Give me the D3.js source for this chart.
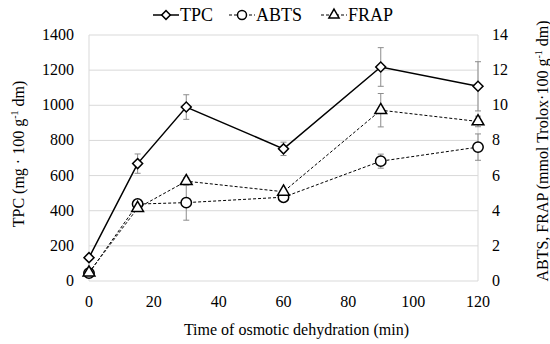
<!DOCTYPE html>
<html>
<head>
<meta charset="utf-8">
<script src="https://cdn.jsdelivr.net/npm/d3@7"></script>
<style>
  body { margin: 0; background: #fff; }
  svg text { font-family: "Liberation Serif", "Times New Roman", serif; fill: #000; }
</style>
</head>
<body>
<svg id="chart" width="550" height="344">
  <text id="xtitle" x="296" y="335" text-anchor="middle" font-family="Liberation Serif" font-size="16">Time of osmotic dehydration (min)</text>
</svg>
<script>
// data
const times = [0, 15, 30, 60, 90, 120];
const tpc = [133, 668, 990, 752, 1218, 1108];
const tpcErr = [10, 55, 70, 38, 110, 140];
const abts = [0.45, 4.38, 4.46, 4.77, 6.82, 7.62];
const abtsErr = [0.05, 0.1, 1.0, 0.15, 0.4, 0.75];
const frap = [0.48, 4.15, 5.68, 5.08, 9.72, 9.08];
const frapErr = [0.05, 0.1, 0.2, 0.1, 0.95, 0.3];
const xTicks = [0, 20, 40, 60, 80, 100, 120];
const leftTicks = [0, 200, 400, 600, 800, 1000, 1200, 1400];
const rightTicks = [0, 2, 4, 6, 8, 10, 12, 14];

const width = 550, height = 344;
const margin = { top: 35, right: 72, bottom: 63, left: 89 };
const serif = "Liberation Serif";

const svg = d3.select("#chart");

const x = d3.scaleLinear().domain([0, 120]).range([margin.left, width - margin.right]);
const yL = d3.scaleLinear().domain([0, 1400]).range([height - margin.bottom, margin.top]);
const yR = d3.scaleLinear().domain([0, 14]).range([height - margin.bottom, margin.top]);

// gridlines
svg.append("g")
    .selectAll("line")
    .data(leftTicks)
    .join("line")
    .attr("x1", x(0)).attr("x2", x(120))
    .attr("y1", d => yL(d)).attr("y2", d => yL(d))
    .attr("stroke", "#d9d9d9").attr("stroke-width", 1);

// vertical frame lines at both ends
[0, 120].forEach(v => {
    svg.append("line")
        .attr("x1", x(v)).attr("x2", x(v))
        .attr("y1", yL(0)).attr("y2", yL(1400))
        .attr("stroke", "#d9d9d9").attr("stroke-width", 1);
});

// tick labels
svg.append("g").selectAll("text").data(leftTicks).join("text")
    .attr("font-family", serif)
    .attr("x", x(0) - 15).attr("y", d => yL(d) + 5)
    .attr("text-anchor", "end").attr("font-size", 16)
    .text(d => d);

svg.append("g").selectAll("text").data(rightTicks).join("text")
    .attr("font-family", serif)
    .attr("x", x(120) + 14).attr("y", d => yR(d) + 5)
    .attr("text-anchor", "start").attr("font-size", 16)
    .text(d => d);

svg.append("g").selectAll("text").data(xTicks).join("text")
    .attr("font-family", serif)
    .attr("x", d => x(d)).attr("y", yL(0) + 26)
    .attr("text-anchor", "middle").attr("font-size", 16)
    .text(d => d);

// x title sits in the markup; keep it centred on the plot
svg.select("#xtitle").attr("x", (x(0) + x(120)) / 2 + 13);

const lt = svg.append("text")
    .attr("font-family", serif)
    .attr("transform", "translate(24,154) rotate(-90)")
    .attr("text-anchor", "middle").attr("font-size", 16);
lt.append("tspan").text("TPC (mg \u00b7 100 g");
lt.append("tspan").attr("dy", -6).attr("font-size", 10).text("-1");
lt.append("tspan").attr("dy", 6).text(" dm)");

const rt = svg.append("text")
    .attr("font-family", serif)
    .attr("transform", "translate(548,151) rotate(-90)")
    .attr("text-anchor", "middle").attr("font-size", 16);
rt.append("tspan").text("ABTS, FRAP (mmol Trolox\u00b7100 g");
rt.append("tspan").attr("dy", -6).attr("font-size", 10).text("-1");
rt.append("tspan").attr("dy", 6).text(" dm)");

// series
const series = [
    { name: "TPC", vals: tpc, err: tpcErr, y: yL, dash: null, lw: 1.5, shape: d3.symbolSquare, rot: 45, size: 50 },
    { name: "ABTS", vals: abts, err: abtsErr, y: yR, dash: "3,2", lw: 1, shape: d3.symbolCircle, rot: 0, size: 85 },
    { name: "FRAP", vals: frap, err: frapErr, y: yR, dash: "3,2", lw: 1, shape: d3.symbolTriangle, rot: 0, size: 60 }
];

// error bars
series.forEach(s => {
    const g = svg.append("g").attr("stroke", "#8c8c8c").attr("stroke-width", 1);
    times.forEach((t, i) => {
        const cx = x(t), y1 = s.y(s.vals[i] - s.err[i]), y2 = s.y(s.vals[i] + s.err[i]);
        g.append("line").attr("x1", cx).attr("x2", cx).attr("y1", y1).attr("y2", y2);
        g.append("line").attr("x1", cx - 3).attr("x2", cx + 3).attr("y1", y1).attr("y2", y1);
        g.append("line").attr("x1", cx - 3).attr("x2", cx + 3).attr("y1", y2).attr("y2", y2);
    });
});

// lines + markers, draw dashed ones first
[series[1], series[2], series[0]].forEach(s => {
    const line = d3.line().x((d, i) => x(times[i])).y(d => s.y(d));
    svg.append("path")
        .datum(s.vals)
        .attr("d", line)
        .attr("fill", "none")
        .attr("stroke", "#000")
        .attr("stroke-width", s.lw)
        .attr("stroke-dasharray", s.dash);
    svg.append("g").selectAll("path").data(s.vals).join("path")
        .attr("transform", (d, i) => `translate(${x(times[i])},${s.y(d)}) rotate(${s.rot})`)
        .attr("d", d3.symbol().type(s.shape).size(s.size))
        .attr("fill", "#fff")
        .attr("stroke", "#000")
        .attr("stroke-width", 1.5);
});

// legend
const legendPos = [{ x: 153, s: series[0] }, { x: 229, s: series[1] }, { x: 321, s: series[2] }];
legendPos.forEach(({ x: lx, s }) => {
    const g = svg.append("g").attr("transform", `translate(${lx},15)`);
    g.append("line").attr("x1", 0).attr("x2", 26).attr("y1", 0).attr("y2", 0)
        .attr("stroke", "#000").attr("stroke-width", s.lw).attr("stroke-dasharray", s.dash);
    g.append("path").attr("transform", `translate(13,0) rotate(${s.rot})`)
        .attr("d", d3.symbol().type(s.shape).size(s.size * 0.75))
        .attr("fill", "#fff").attr("stroke", "#000").attr("stroke-width", 1.5);
    g.append("text").attr("font-family", serif)
        .attr("x", 27).attr("y", 6).attr("font-size", 18).text(s.name);
});
</script>
</body>
</html>
